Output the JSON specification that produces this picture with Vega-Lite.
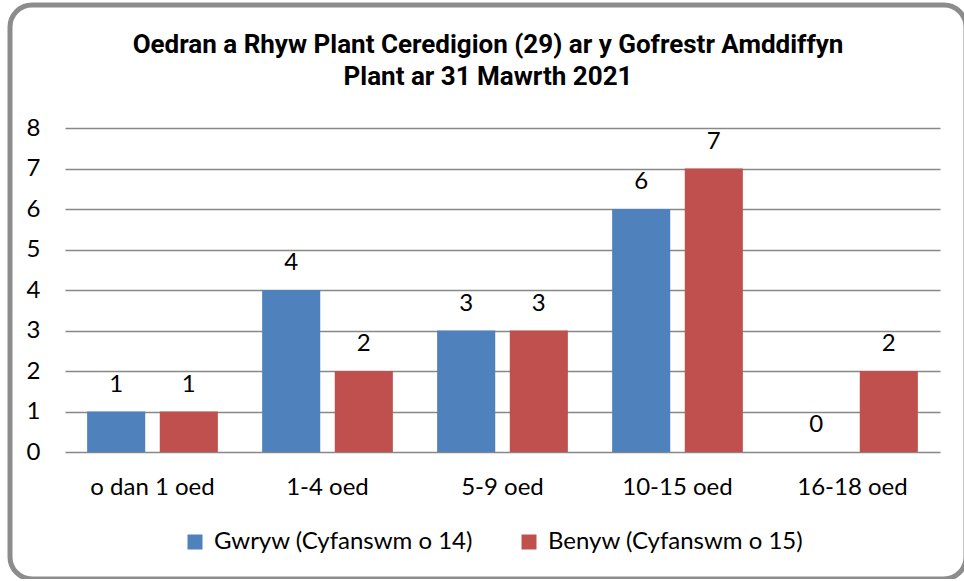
{
  "$schema": "https://vega.github.io/schema/vega-lite/v6.json",
  "autosize": {"type": "none"},
  "width": 956,
  "height": 574,
  "padding": {"left": 10, "top": 5, "right": 0, "bottom": 0},
  "background": "white",
  "title": {
    "text": ["Oedran a Rhyw Plant Ceredigion (29) ar y Gofrestr Amddiffyn", "Plant ar 31 Mawrth 2021"],
    "font": "Roboto",
    "fontSize": 26,
    "fontWeight": "bold",
    "color": "#000000",
    "anchor": "middle",
    "frame": "group",
    "baseline": "top",
    "lineHeight": 32,
    "offset": -85
  },
  "config": {
    "view": {"stroke": "#8c8c8c", "strokeWidth": 5, "cornerRadius": 22},
    "font": "Lato"
  },
  "data": {
    "values": [
      {"oed": "o dan 1 oed", "rhyw": "Gwryw (Cyfanswm o 14)", "nifer": 1},
      {"oed": "o dan 1 oed", "rhyw": "Benyw (Cyfanswm o 15)", "nifer": 1},
      {"oed": "1-4 oed", "rhyw": "Gwryw (Cyfanswm o 14)", "nifer": 4},
      {"oed": "1-4 oed", "rhyw": "Benyw (Cyfanswm o 15)", "nifer": 2},
      {"oed": "5-9 oed", "rhyw": "Gwryw (Cyfanswm o 14)", "nifer": 3},
      {"oed": "5-9 oed", "rhyw": "Benyw (Cyfanswm o 15)", "nifer": 3},
      {"oed": "10-15 oed", "rhyw": "Gwryw (Cyfanswm o 14)", "nifer": 6},
      {"oed": "10-15 oed", "rhyw": "Benyw (Cyfanswm o 15)", "nifer": 7},
      {"oed": "16-18 oed", "rhyw": "Gwryw (Cyfanswm o 14)", "nifer": 0},
      {"oed": "16-18 oed", "rhyw": "Benyw (Cyfanswm o 15)", "nifer": 2}
    ]
  },
  "encoding": {
    "x": {
      "field": "oed",
      "type": "nominal",
      "sort": ["o dan 1 oed", "1-4 oed", "5-9 oed", "10-15 oed", "16-18 oed"],
      "scale": {"range": [55, 930], "paddingInner": 0.253, "paddingOuter": 0.1265},
      "axis": {
        "title": null,
        "labelAngle": 0,
        "labelFont": "Lato",
        "labelFontSize": 24,
        "labelColor": "#000000",
        "labelPadding": 23,
        "ticks": false,
        "tickSize": 0,
        "domain": false,
        "grid": false,
        "offset": -127
      }
    },
    "xOffset": {
      "field": "rhyw",
      "type": "nominal",
      "sort": ["Gwryw (Cyfanswm o 14)", "Benyw (Cyfanswm o 15)"],
      "scale": {"paddingInner": 0.2, "paddingOuter": 0}
    },
    "y": {
      "field": "nifer",
      "type": "quantitative",
      "scale": {"domain": [0, 8], "range": [447, 123], "nice": false},
      "axis": {
        "title": null,
        "values": [0, 1, 2, 3, 4, 5, 6, 7, 8],
        "labelFont": "Lato",
        "labelFontSize": 24,
        "labelColor": "#000000",
        "labelPadding": 0,
        "ticks": false,
        "tickSize": 0,
        "domain": false,
        "grid": true,
        "gridColor": "#888888",
        "gridWidth": 1.6,
        "offset": -30
      }
    }
  },
  "layer": [
    {
      "mark": {"type": "bar"},
      "encoding": {
        "color": {
          "field": "rhyw",
          "type": "nominal",
          "sort": ["Gwryw (Cyfanswm o 14)", "Benyw (Cyfanswm o 15)"],
          "scale": {"range": ["#4F81BD", "#C0504D"]},
          "legend": {
            "title": null,
            "orient": "none",
            "direction": "horizontal",
            "legendX": 173,
            "legendY": 525,
            "symbolType": "square",
            "symbolSize": 225,
            "symbolStrokeWidth": 0,
            "labelFont": "Lato",
            "labelFontSize": 24,
            "labelColor": "#000000",
            "labelOffset": 7,
            "columnPadding": 44,
            "labelLimit": 400,
            "padding": 0
          }
        }
      }
    },
    {
      "mark": {"type": "text", "dy": -27, "font": "Lato", "fontSize": 24, "color": "#000000"},
      "encoding": {
        "text": {"field": "nifer", "type": "quantitative"}
      }
    }
  ]
}
